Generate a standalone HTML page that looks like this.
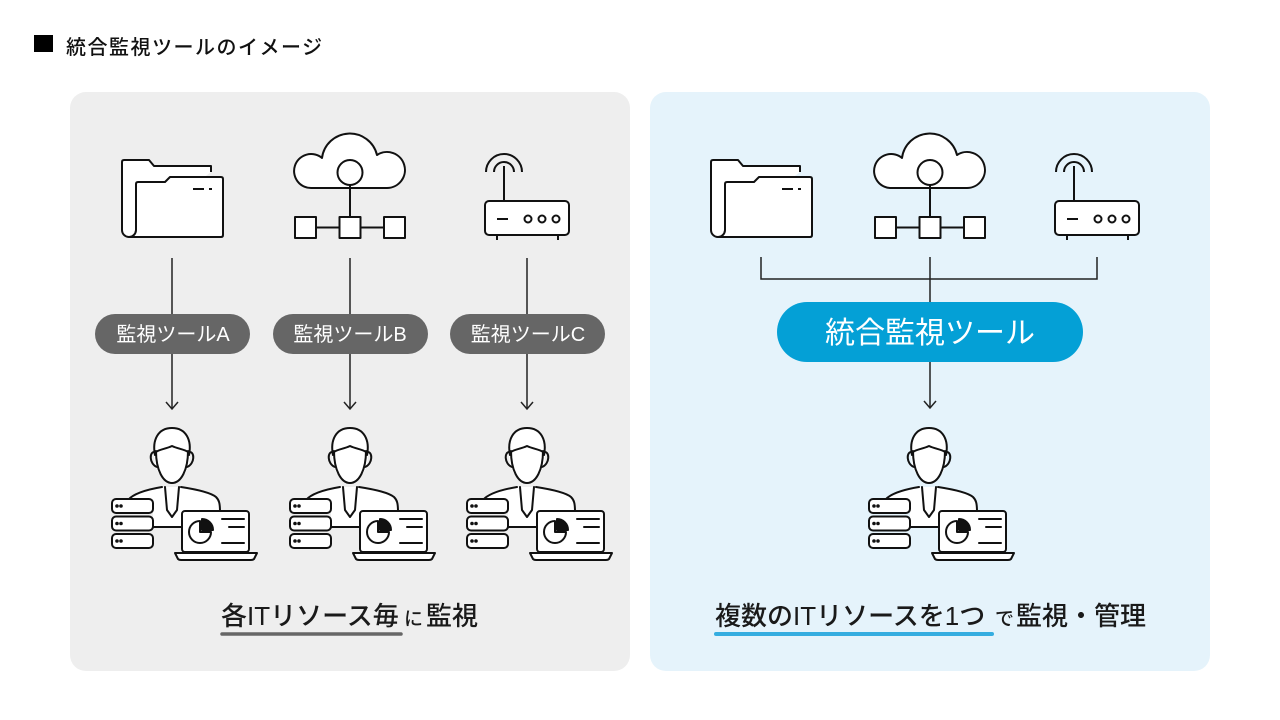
<!DOCTYPE html>
<html><head><meta charset="utf-8"><style>
html,body{margin:0;padding:0;background:#fff;}
svg{display:block;}
text{font-family:"Liberation Sans","Noto Sans CJK JP",sans-serif;}
</style></head><body>
<svg width="1280" height="720" viewBox="0 0 1280 720" xmlns="http://www.w3.org/2000/svg">
<defs>
<g id="folder" fill="#fff" stroke="#111" stroke-width="2" stroke-linejoin="round">
  <path d="M211,172 V166 H154 L149,160 H124 Q122,160 122,162 V230 A7,7 0 0 0 136,230"/>
  <path d="M129,237 H221 Q223,237 223,235 V179 Q223,177 221,177 H170 L165,182 H138 Q136,182 136,184 V230 A7,7 0 0 1 129,237 Z"/>
  <path d="M193,189 H204 M209,189 H212" fill="none"/>
</g>
<g id="cloud" stroke="#111" stroke-width="2" stroke-linejoin="round">
  <path d="M312,188 A17,17 0 1 1 322,158 A28,28 0 0 1 377,155 A18,18 0 1 1 387,188 Z" fill="#fff"/>
  <circle cx="350" cy="172.5" r="12.5" fill="#fff"/>
  <path d="M350,185 V217 M316,227.5 H339 M361,227.5 H383" fill="none"/>
  <rect x="295" y="217" width="21" height="21" fill="#fff"/>
  <rect x="339.5" y="217" width="21" height="21" fill="#fff"/>
  <rect x="384" y="217" width="21" height="21" fill="#fff"/>
</g>
<g id="router" stroke="#111" stroke-width="2" stroke-linejoin="round" fill="none">
  <path d="M486,172 A18,18 0 0 1 522,172"/>
  <path d="M494,172 A10,10 0 0 1 514,172"/>
  <path d="M504,166 V201"/>
  <path d="M497,235 V240 M558,235 V240"/>
  <rect x="485" y="201" width="84" height="34" rx="4" fill="#fff"/>
  <path d="M497,219 H508"/>
  <circle cx="528" cy="219" r="3.5"/>
  <circle cx="542" cy="219" r="3.5"/>
  <circle cx="556" cy="219" r="3.5"/>
</g>
<g id="person" stroke="#111" stroke-width="2" stroke-linejoin="round" stroke-linecap="round">
  <path d="M128,500 C134,493 150,489 160,487 L186,487 C196,489 210,492 216,497 C219,500 220,503 220,512 L220,527 L153,527 L153,500 Z" fill="#fff" stroke="none"/>
  <path d="M128,500 C134,493 150,489 162,487" fill="none"/>
  <path d="M181,487 C194,489 210,492 216,497 C219,500 220,503 220,512" fill="none"/>
  <path d="M153,527 H182" fill="none"/>
  <path d="M165,487 L167,510 L172,517 L177,510 L179,487" fill="none"/>
  <path d="M154,455 C152,440 158,428 172,428 C186,428 192,440 190,455 C190,470 181,483 172,483 C163,483 154,470 154,455 Z" fill="#fff" stroke="none"/>
  <path d="M155,455 C152,440 158,428 172,428 C186,428 192,440 189,455" fill="none"/>
  <path d="M189,452 C195,451 195,464 187,467" fill="none"/>
  <path d="M155,452 C149,451 149,464 157,467" fill="none"/>
  <path d="M156,451 C156,470 163,483 172,483 C181,483 188,470 188,451" fill="none"/>
  <path d="M156,452 C160,449 166,449 172,446 C178,449 184,449 188,452" fill="none"/>
  <rect x="112" y="499" width="41" height="14" rx="4" fill="#fff"/>
  <rect x="112" y="516.5" width="41" height="14" rx="4" fill="#fff"/>
  <rect x="112" y="534" width="41" height="14" rx="4" fill="#fff"/>
  <circle cx="117" cy="506" r="0.8" fill="#111"/><circle cx="121" cy="506" r="0.8" fill="#111"/>
  <circle cx="117" cy="523.5" r="0.8" fill="#111"/><circle cx="121" cy="523.5" r="0.8" fill="#111"/>
  <circle cx="117" cy="541" r="0.8" fill="#111"/><circle cx="121" cy="541" r="0.8" fill="#111"/>
  <rect x="182" y="511" width="67" height="41" rx="3" fill="#fff"/>
  <path d="M175,553 H257 L254,559 Q253,560 251,560 H181 Q179,560 178,559 Z" fill="#fff"/>
  <path d="M200,521 A11,11 0 1 0 211,532 L200,532 Z" fill="#fff"/>
  <path d="M202,530 V519 A11,11 0 0 1 213,530 Z" fill="#111"/>
  <path d="M222,519 H244 M229,527 H244 M222,543 H244" fill="none"/>
</g>
</defs>

<!-- title -->
<rect x="34" y="35" width="19" height="17" fill="#000"/>
<text x="66" y="54" font-size="20" font-weight="500" letter-spacing="1.5" fill="#111">統合監視ツールのイメージ</text>

<!-- panels -->
<rect x="70" y="92" width="560" height="579" rx="16" fill="#eeeeee"/>
<rect x="650" y="92" width="560" height="579" rx="16" fill="#e5f3fb"/>

<!-- left icons -->
<use href="#folder"/>
<use href="#cloud"/>
<use href="#router"/>

<!-- left arrows -->
<g stroke="#222" stroke-width="1.5" fill="none">
  <path d="M172,258 V409 M350,258 V409 M527,258 V409"/>
  <path d="M166,402 L172,409 L178,402 M344,402 L350,409 L356,402 M521,402 L527,409 L533,402"/>
</g>

<!-- left pills -->
<rect x="95" y="314" width="155" height="40" rx="20" fill="#666666"/>
<rect x="273" y="314" width="155" height="40" rx="20" fill="#666666"/>
<rect x="450" y="314" width="155" height="40" rx="20" fill="#666666"/>
<g font-size="20" fill="#fff" text-anchor="middle">
  <text x="173" y="341">監視ツールA</text>
  <text x="350" y="341">監視ツールB</text>
  <text x="528" y="341">監視ツールC</text>
</g>

<!-- left persons -->
<use href="#person"/>
<use href="#person" transform="translate(178,0)"/>
<use href="#person" transform="translate(355,0)"/>

<!-- left caption -->
<text y="625" fill="#1a1a1a" font-weight="500"><tspan x="221" font-size="26">各ITリソース毎</tspan><tspan x="404" font-size="19">に</tspan><tspan x="426" font-size="26">監視</tspan></text>
<path d="M222,634 H401" stroke="#666" stroke-width="3.5" stroke-linecap="round"/>

<!-- right icons -->
<use href="#folder" transform="translate(589,0)"/>
<use href="#cloud" transform="translate(580,0)"/>
<use href="#router" transform="translate(570,0)"/>

<!-- right connectors -->
<g stroke="#222" stroke-width="1.5" fill="none">
  <path d="M761,257 V279 H1097 V257"/>
  <path d="M930,257 V408"/>
  <path d="M924,401 L930,408 L936,401"/>
</g>
<rect x="777" y="302" width="306" height="60" rx="30" fill="#04a0d6"/>
<text x="930" y="343" font-size="30" fill="#fff" text-anchor="middle">統合監視ツール</text>

<use href="#person" transform="translate(757,0)"/>

<!-- right caption -->
<text y="625" fill="#1a1a1a" font-weight="500"><tspan x="715" font-size="26">複数のITリソースを1つ</tspan><tspan x="995" font-size="19">で</tspan><tspan x="1016" font-size="26">監視・管理</tspan></text>
<path d="M716,634 H992" stroke="#35ade0" stroke-width="4" stroke-linecap="round"/>
</svg>
</body></html>
